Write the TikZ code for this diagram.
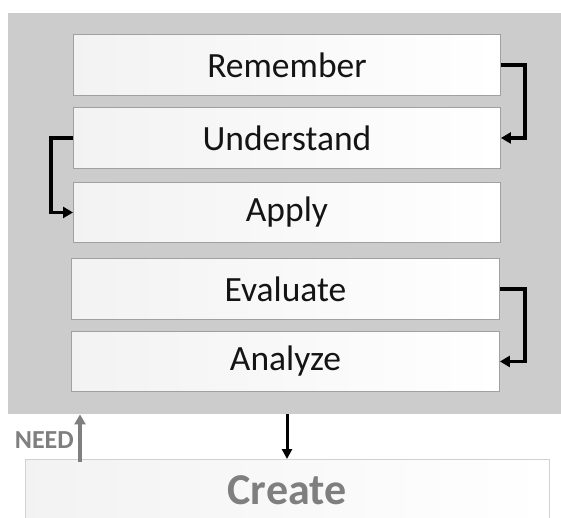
\documentclass[tikz,border=0pt]{standalone}
\usepackage{fontspec}
\setmainfont{Carlito}
\usetikzlibrary{arrows.meta,calc}
\definecolor{panelgray}{HTML}{CCCCCC}
\definecolor{edgegray}{HTML}{A0A0A0}
\definecolor{textgray}{HTML}{7F7F7F}
\tikzset{
  level/.style={draw=edgegray, line width=0.9pt, left color=black!5, right color=white,
    minimum width=427pt, minimum height=61pt, inner sep=0pt,
    font=\fontsize{35.5}{40}\selectfont, text=black!92},
  loop/.style={line width=3.6pt, -{Triangle[length=10pt,width=11pt]}},
}
\begin{document}
\begin{tikzpicture}[x=1pt,y=-1pt]
  \useasboundingbox (0,0) rectangle (561,517);
  % grey panel behind the stacked levels
  \node[fill=panelgray, draw=none, minimum width=553pt, minimum height=401pt, inner sep=0pt,
        anchor=north west] (panel) at (8,13) {};
  % the five levels
  \node[level, anchor=north west] (rem) at (73,34)  {Remember};
  \node[level, anchor=north west] (und) at (73,107) {Understand};
  \node[level, anchor=north west, minimum height=60pt] (app) at (73,182) {Apply};
  \node[level, anchor=north west, minimum width=428pt] (eva) at (71,258) {Evaluate};
  \node[level, anchor=north west, minimum width=428pt, minimum height=60pt] (ana) at (71,331) {Analyze};
  % bottom level, running off the lower edge
  \begin{scope}
    \clip (0,0) rectangle (561,517);
    \node[draw=black!18, line width=0.8pt, left color=black!5, right color=white,
          minimum width=524pt, minimum height=80pt, inner sep=0pt, anchor=north west] (createbox) at (25,459) {};
  \end{scope}
  \node[font=\fontsize{44}{50}\selectfont\bfseries, text=textgray] (create) at (287,490) {Create};
  % bent connectors between neighbouring levels
  \draw[loop] (rem.east) -- ++(24,0) |- (und.east);
  \draw[loop] (und.west) -- ++(-22,0) |- (app.west);
  \draw[loop] (eva.east) -- ++(25,0) |- (ana.east);
  % down arrow into the bottom level
  \coordinate (downtop) at (create |- panel.south);
  \draw[line width=3pt, -{Triangle[length=10pt,width=10pt]}] (downtop) -- (create |- createbox.north);
  % upward "need" arrow
  \coordinate (needfoot) at ($(createbox.north west)+(55,3)$);
  \draw[textgray, line width=3.6pt, -{Triangle[length=10pt,width=11pt]}] (needfoot) -- (needfoot |- panel.south);
  \node[font=\fontsize{26}{30}\selectfont\bfseries, text=textgray, anchor=east, inner sep=0pt] (need) at ($(needfoot)+(-6,-22)$) {NEED};
\end{tikzpicture}
\end{document}
